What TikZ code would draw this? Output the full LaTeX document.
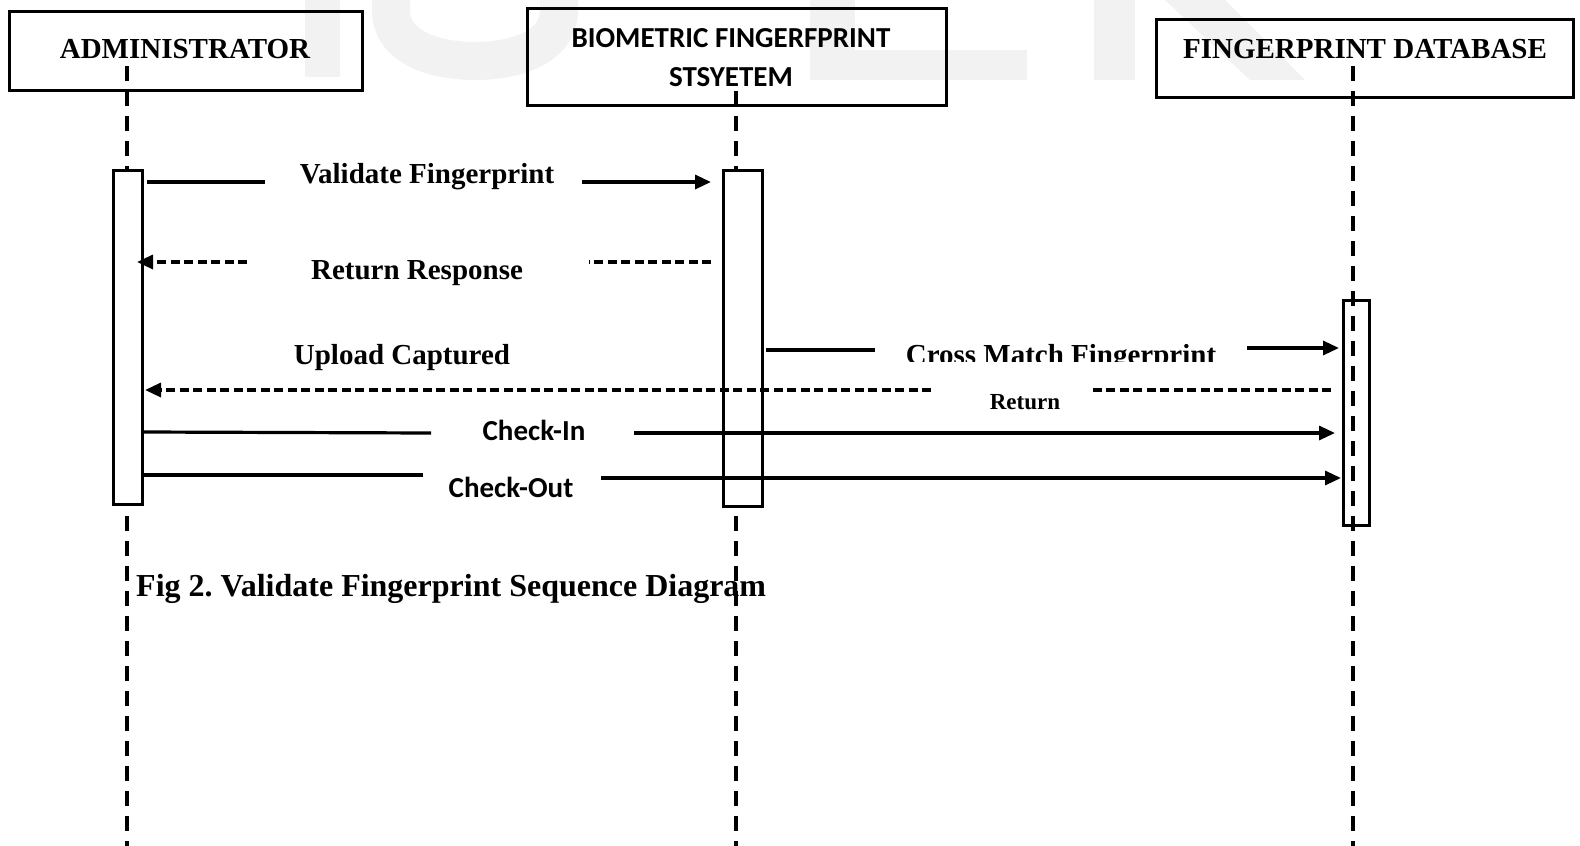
\documentclass[tikz,border=0pt]{standalone}
\usepackage{fontspec}
\setmainfont{Liberation Serif}
\newfontfamily\calfont{Carlito}
\usetikzlibrary{arrows.meta}
\frenchspacing

\begin{document}
\begin{tikzpicture}[x=1pt,y=-1pt,
  actorbox/.style={draw, line width=3.2pt, inner sep=0pt, anchor=north west},
  actbar/.style={draw, line width=3.2pt, inner sep=0pt, anchor=north west},
  lifeline/.style={line width=3.2pt, dash pattern=on 15pt off 10pt},
  msg/.style={line width=3.2pt},
  ret/.style={line width=3.2pt, dash pattern=on 9pt off 4.5pt},
  tip/.style={-{Triangle[length=16pt,width=14pt]}},
  serifbig/.style={font=\fontsize{29}{34}\selectfont\bfseries, inner sep=0pt, anchor=base},
  sansbig/.style={font=\calfont\fontsize{29}{38}\selectfont\bfseries, inner sep=0pt, anchor=base},
  wmark/.style={fill=black!5, draw=none}
]
\useasboundingbox (0,0) rectangle (1580,846);
\fill[white] (0,0) rectangle (1580,846);

% faint watermark letters along the top edge
\fill[wmark] (305,0) rectangle (340,77);
\draw[black!5, line width=38pt] (391,-5) -- (391,10) to[out=-90,in=180] (475,61) to[out=0,in=-90] (559,10) -- (559,-5);
\fill[wmark] (810,0) rectangle (855,80);
\fill[wmark] (855,50) rectangle (1027,80);
\fill[wmark] (1094,0) rectangle (1135,80);
\fill[wmark] (1165,0) -- (1225,0) -- (1305,80) -- (1250,80) -- cycle;

% lifelines
\coordinate (admTop) at (127,66);  \coordinate (admBot) at (127,846);
\coordinate (sysTop) at (736,91);  \coordinate (sysBot) at (736,846);
\coordinate (dbTop)  at (1353,66); \coordinate (dbBot)  at (1353,846);
\draw[lifeline] (admTop) -- (admBot);
\draw[lifeline] (sysTop) -- (sysBot);
\draw[lifeline] (dbTop) -- (dbBot);

% actor boxes
\node[actorbox, minimum width=353pt, minimum height=79pt] (admBox) at (8,10) {};
\node[actorbox, minimum width=419pt, minimum height=97pt] (sysBox) at (526,7) {};
\node[actorbox, minimum width=417pt, minimum height=78pt] (dbBox) at (1155,18) {};
\node[serifbig] (admName) at (185,58) {ADMINISTRATOR};
\node[sansbig] (sysName1) at (731,47.5) {BIOMETRIC FINGERFPRINT};
\node[sansbig] (sysName2) at (731,86.5) {STSYETEM};
\node[serifbig] (dbName) at (1365,58) {FINGERPRINT DATABASE};

% activation bars
\node[actbar, fill=white, minimum width=29pt, minimum height=334pt] (admAct) at (112,169) {};
\node[actbar, fill=white, minimum width=39pt, minimum height=336pt] (sysAct) at (722,169) {};
\node[actbar, minimum width=26pt, minimum height=225pt] (dbAct) at (1342,299) {};

% Validate Fingerprint
\coordinate (v1) at (147,182); \coordinate (v2) at (265,182);
\coordinate (v3) at (582,182); \coordinate (v4) at (711,182);
\draw[msg] (v1) -- (v2);
\draw[msg, tip] (v3) -- (v4);
\node[serifbig] (vLab) at (427,183) {Validate Fingerprint};

% Return Response
\coordinate (r1) at (711,262); \coordinate (r2) at (589,262);
\coordinate (r3) at (247,262); \coordinate (r4) at (137,262);
\draw[ret] (r1) -- (r2);
\draw[ret, tip] (r3) -- (r4);
\node[serifbig] (rLab) at (417,279) {Return Response};

% Upload Captured
\node[serifbig] (uLab) at (402,364) {Upload Captured};

% Cross Match Fingerprint
\coordinate (c1) at (766,350); \coordinate (c2) at (875,350);
\coordinate (c3) at (1247,348); \coordinate (c4) at (1339,348);
\draw[msg] (c1) -- (c2);
\draw[msg, tip] (c3) -- (c4);
\begin{scope}
  \clip (850,300) rectangle (1240,361);
  \node[serifbig] (cLab) at (1061,364) {Cross Match Fingerprint};
\end{scope}

% Return
\coordinate (t1) at (1331,390); \coordinate (t2) at (1090,390);
\coordinate (t3) at (931,390);  \coordinate (t4) at (145,390);
\draw[ret] (t1) -- (t2);
\draw[ret, tip] (t3) -- (t4);
\node[font=\fontsize{23}{27}\selectfont\bfseries, inner sep=0pt, anchor=base] (tLab) at (1025,409) {Return};

% Check-In
\coordinate (i1) at (144,432); \coordinate (i2) at (431,433);
\coordinate (i3) at (634,433); \coordinate (i4) at (1335,433);
\draw[msg] (i1) -- (i2);
\draw[msg, tip] (i3) -- (i4);
\node[sansbig] (iLab) at (534,440) {Check-In};

% Check-Out
\coordinate (o1) at (144,475); \coordinate (o2) at (423,475);
\coordinate (o3) at (601,478); \coordinate (o4) at (1341,478);
\draw[msg] (o1) -- (o2);
\draw[msg, tip] (o3) -- (o4);
\node[sansbig] (oLab) at (511,497) {Check-Out};

% caption
\node[font=\fontsize{32}{38}\selectfont\bfseries, inner sep=0pt, anchor=base west] (caption) at (136,596) {Fig 2. Validate Fingerprint Sequence Diagram};
\end{tikzpicture}
\end{document}
